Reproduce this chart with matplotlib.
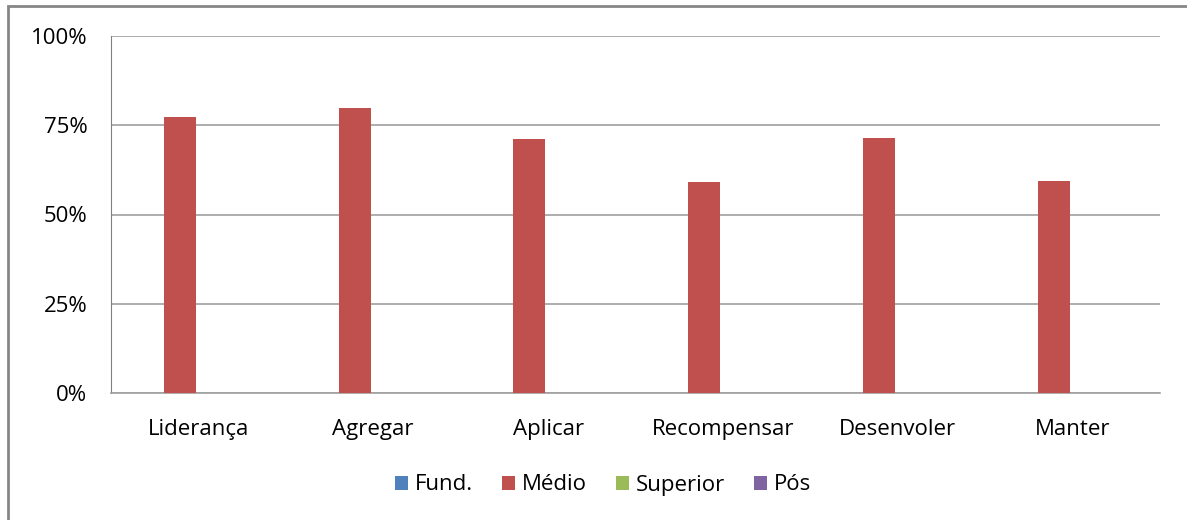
import matplotlib.pyplot as plt
import numpy as np
from matplotlib.patches import Rectangle

# categories and series (only "Médio" has values in the source)
categories = ["Liderança", "Agregar", "Aplicar", "Recompensar", "Desenvoler", "Manter"]
series_names = ["Fund.", "Médio", "Superior", "Pós"]
fund = [0, 0, 0, 0, 0, 0]
medio = [0.773, 0.798, 0.711, 0.591, 0.714, 0.594]
superior = [0, 0, 0, 0, 0, 0]
pos = [0, 0, 0, 0, 0, 0]
colors = ["#4F81BD", "#C0504D", "#9BBB59", "#8064A2"]

plt.rcParams['font.family'] = ['Open Sans', 'DejaVu Sans']

fig = plt.figure(figsize=(11.87, 5.2), dpi=100)
ax = fig.add_axes([111 / 1187, 1 - 393 / 520, (1160 - 111) / 1187, (393 - 36) / 520])

x = np.arange(len(categories))
w = 0.183
data = [fund, medio, superior, pos]
for i, (name, vals, c) in enumerate(zip(series_names, data, colors)):
    ax.bar(x + (i - 1.5) * w - 0.015, vals, width=w, color=c, label=name, zorder=3)

ax.set_xlim(-0.5, len(categories) - 0.5)
ax.set_ylim(0, 1)
ax.set_yticks([0, 0.25, 0.5, 0.75, 1.0])
ax.set_yticklabels(["0%", "25%", "50%", "75%", "100%"])
ax.set_xticks(x)
ax.set_xticklabels(categories)
ax.tick_params(axis='y', length=0, pad=17, labelsize=16, colors='#000000')
ax.tick_params(axis='x', length=0, pad=19, labelsize=16)
ax.grid(axis='y', color='#A0A0A0', linewidth=1.2, zorder=0)
for s in ['top', 'right']:
    ax.spines[s].set_visible(False)
ax.spines['left'].set_color('#808080')
ax.spines['bottom'].set_color('#A0A0A0')
ax.spines['bottom'].set_linewidth(1.2)

leg = fig.legend(loc='center', bbox_to_anchor=(603 / 1187, 1 - 485 / 520), ncol=4,
                 frameon=False, fontsize=16, handlelength=0.6, handleheight=0.6,
                 handletextpad=0.3, columnspacing=1.3)

# outer chart border
fig.patches.append(Rectangle((8 / 1187, -0.1), 1.2, 1 - 6 / 520 + 0.1,
                             transform=fig.transFigure, fill=False,
                             edgecolor='#868686', linewidth=2))

fig.savefig("out.png", dpi=100)
